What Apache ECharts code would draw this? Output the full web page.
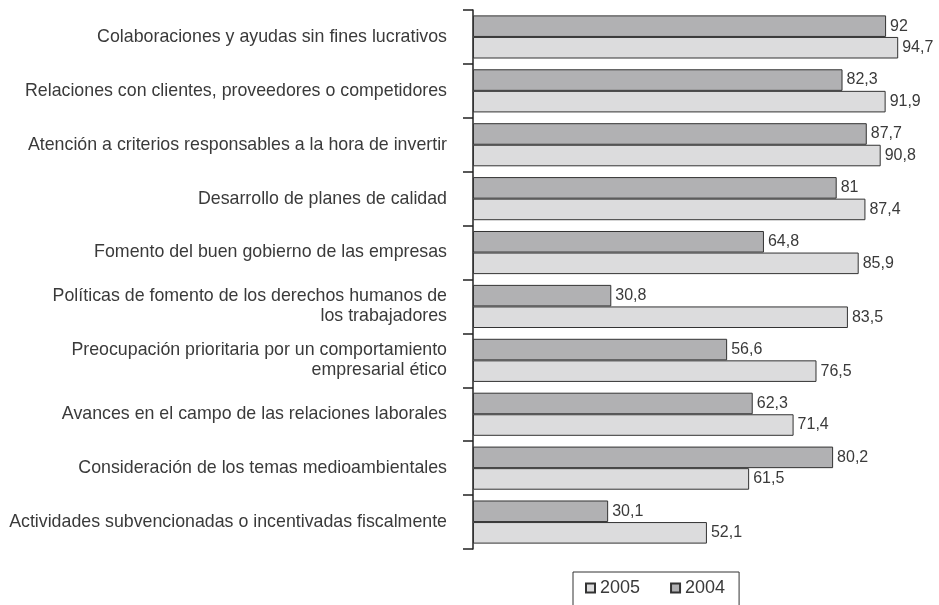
<!DOCTYPE html>
<html>
<head>
<meta charset="utf-8">
<script src="https://cdn.jsdelivr.net/npm/echarts@6/dist/echarts.min.js"></script>
<style>
  html, body { margin: 0; padding: 0; background: #fff; }
  #chart { width: 939px; height: 605px; }
</style>
</head>
<body>
<div id="chart"></div>
<script>
const categorias = [
  'Colaboraciones y ayudas sin fines lucrativos',
  'Relaciones con clientes, proveedores o competidores',
  'Atención a criterios responsables a la hora de invertir',
  'Desarrollo de planes de calidad',
  'Fomento del buen gobierno de las empresas',
  'Políticas de fomento de los derechos humanos de\nlos trabajadores',
  'Preocupación prioritaria por un comportamiento\nempresarial ético',
  'Avances en el campo de las relaciones laborales',
  'Consideración de los temas medioambientales',
  'Actividades subvencionadas o incentivadas fiscalmente'
];
const valores2004 = [92, 82.3, 87.7, 81, 64.8, 30.8, 56.6, 62.3, 80.2, 30.1];
const valores2005 = [94.7, 91.9, 90.8, 87.4, 85.9, 83.5, 76.5, 71.4, 61.5, 52.1];

const fuente = '"Liberation Sans", Arial, sans-serif';
const myChart = echarts.init(document.getElementById('chart'));

const etiqueta = {
  show: true,
  position: 'right',
  distance: 4,
  color: '#3a3a3a',
  fontFamily: fuente,
  fontSize: 16,
  formatter: p => String(p.value).replace('.', ',')
};

const option = {
  animation: false,
  grid: { left: 473, right: 17, top: 10, bottom: 56 },
  legend: {
    data: ['2005', '2004'],
    left: 573,
    top: 572,
    padding: [7, 14, 10, 12],
    borderColor: '#333',
    borderWidth: 1,
    itemWidth: 9,
    itemHeight: 9,
    itemGap: 30,
    icon: 'rect',
    textStyle: { fontFamily: fuente, fontSize: 18, color: '#3a3a3a' }
  },
  xAxis: {
    type: 'value',
    min: 0,
    max: 100,
    show: false
  },
  yAxis: {
    type: 'category',
    data: categorias,
    inverse: true,
    axisLine: { show: true, lineStyle: { color: '#222', width: 1.5 } },
    axisTick: {
      show: true,
      interval: 0,
      inside: false,
      length: 10,
      lineStyle: { color: '#222', width: 1.5 }
    },
    axisLabel: {
      interval: 0,
      margin: 26,
      fontFamily: fuente,
      fontSize: 17.8,
      color: '#3a3a3a',
      align: 'right',
      lineHeight: 20
    }
  },
  series: [
    {
      name: '2004',
      type: 'bar',
      data: valores2004,
      barGap: '0%',
      barCategoryGap: '20%',
      itemStyle: { color: '#b1b1b3', borderColor: '#333', borderWidth: 1 },
      label: etiqueta
    },
    {
      name: '2005',
      type: 'bar',
      data: valores2005,
      barGap: '0%',
      barCategoryGap: '20%',
      itemStyle: { color: '#dcdcdd', borderColor: '#333', borderWidth: 1 },
      label: etiqueta
    }
  ]
};

myChart.setOption(option);
</script>
</body>
</html>
